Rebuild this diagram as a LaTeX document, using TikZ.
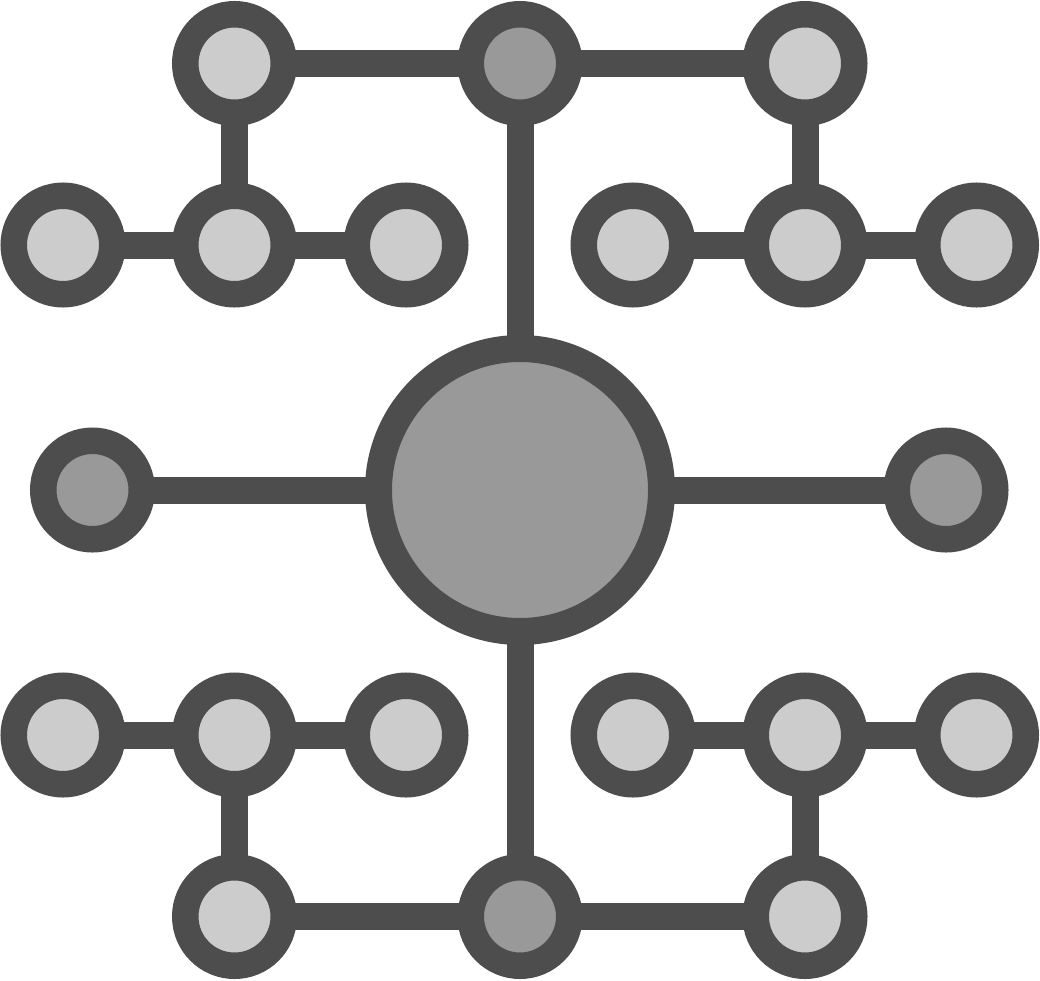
\documentclass[tikz,border=0pt]{standalone}
\usetikzlibrary{backgrounds}
\definecolor{ink}{HTML}{4D4D4D}
\definecolor{lightfill}{HTML}{CCCCCC}
\definecolor{darkfill}{HTML}{999999}
\tikzset{
  dot/.style={circle,draw=ink,line width=26.5pt,fill=lightfill,minimum size=98.5pt,inner sep=0pt},
  hubdot/.style={dot,fill=darkfill},
  bigdot/.style={circle,draw=ink,line width=27pt,fill=darkfill,minimum size=283pt,inner sep=0pt},
  link/.style={draw=ink,line width=27pt}
}
\begin{document}
\begin{tikzpicture}[x=1pt,y=-1pt]
\useasboundingbox (0,0) rectangle (1040,980);
% top row
\node[dot] (t1) at (234.5,63.5) {};
\node[hubdot] (t2) at (520,63.5) {};
\node[dot] (t3) at (805,63.5) {};
% second row
\node[dot] (a1) at (63,245) {};
\node[dot] (a2) at (234.5,245) {};
\node[dot] (a3) at (406,245) {};
\node[dot] (a4) at (633,245) {};
\node[dot] (a5) at (805,245) {};
\node[dot] (a6) at (976.5,245) {};
% middle
\node[hubdot] (ml) at (92.5,490) {};
\node[bigdot] (c) at (520,490) {};
\node[hubdot] (mr) at (946,490) {};
% fourth row
\node[dot] (b1) at (63,735) {};
\node[dot] (b2) at (234.5,735) {};
\node[dot] (b3) at (406,735) {};
\node[dot] (b4) at (633,735) {};
\node[dot] (b5) at (805,735) {};
\node[dot] (b6) at (976.5,735) {};
% bottom row
\node[dot] (u1) at (234.5,916.5) {};
\node[hubdot] (u2) at (520,916.5) {};
\node[dot] (u3) at (805,916.5) {};
\begin{scope}[on background layer]
\fill[white] (0,0) rectangle (1040,980);
\path[link] (t1.center) -- (t2.center) -- (t3.center);
\path[link] (t1.center) -- (a2.center);
\path[link] (a1.center) -- (a2.center) -- (a3.center);
\path[link] (t3.center) -- (a5.center);
\path[link] (a4.center) -- (a5.center) -- (a6.center);
\path[link] (t2.center) -- (c.center);
\path[link] (c.center) -- (u2.center);
\path[link] (ml.center) -- (c.center) -- (mr.center);
\path[link] (b1.center) -- (b2.center) -- (b3.center);
\path[link] (b2.center) -- (u1.center);
\path[link] (b4.center) -- (b5.center) -- (b6.center);
\path[link] (b5.center) -- (u3.center);
\path[link] (u1.center) -- (u2.center) -- (u3.center);
\end{scope}
\end{tikzpicture}
\end{document}
